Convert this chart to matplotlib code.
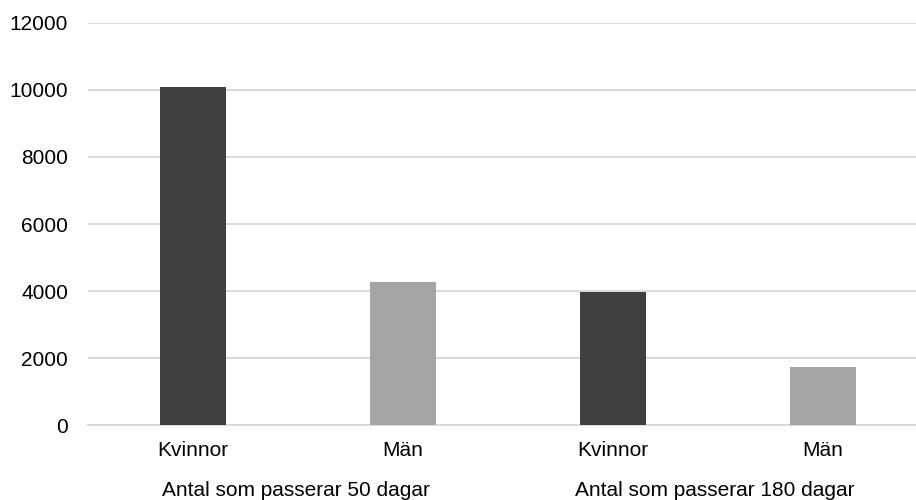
import matplotlib.pyplot as plt
import numpy as np

plt.rcParams['font.family'] = ['Liberation Sans', 'DejaVu Sans']

# antal personer per kön och gräns
categories = ["Kvinnor", "Män", "Kvinnor", "Män"]
values = [10080, 4270, 3970, 1730]
bar_colors = ["#404040", "#a5a5a5", "#404040", "#a5a5a5"]
groups = ["Antal som passerar 50 dagar", "Antal som passerar 180 dagar"]
group_starts = [-0.148, 1.819]
yticks = [0, 2000, 4000, 6000, 8000, 10000, 12000]

fig = plt.figure(figsize=(9.16, 5), dpi=100)
ax = fig.add_axes([88 / 916, 0.1494, 840 / 916, 0.8052])

x = np.arange(len(categories))
ax.bar(x, values, width=0.314, color=bar_colors, zorder=3)

ax.set_xlim(-0.5, 3.5)
ax.set_ylim(0, 12000)
ax.set_yticks(yticks)
ax.set_xticks(x)
ax.set_xticklabels(categories)
ax.tick_params(axis='y', length=0, pad=14.4, labelsize=15, labelcolor='#000000')
ax.tick_params(axis='x', length=0, pad=11.5, labelsize=15, labelcolor='#000000')

ax.grid(axis='y', color='#d9d9d9', linewidth=1.4, zorder=0)
ax.set_axisbelow(True)
for side in ['top', 'right', 'left']:
    ax.spines[side].set_visible(False)
ax.spines['bottom'].set_color('#d9d9d9')
ax.spines['bottom'].set_linewidth(1.4)

# second row of category labels, below the first
for start, label in zip(group_starts, groups):
    ax.text(start, -0.175, label, transform=ax.get_xaxis_transform(),
            ha='left', va='baseline', fontsize=15)

plt.savefig("out.png", dpi=100)
